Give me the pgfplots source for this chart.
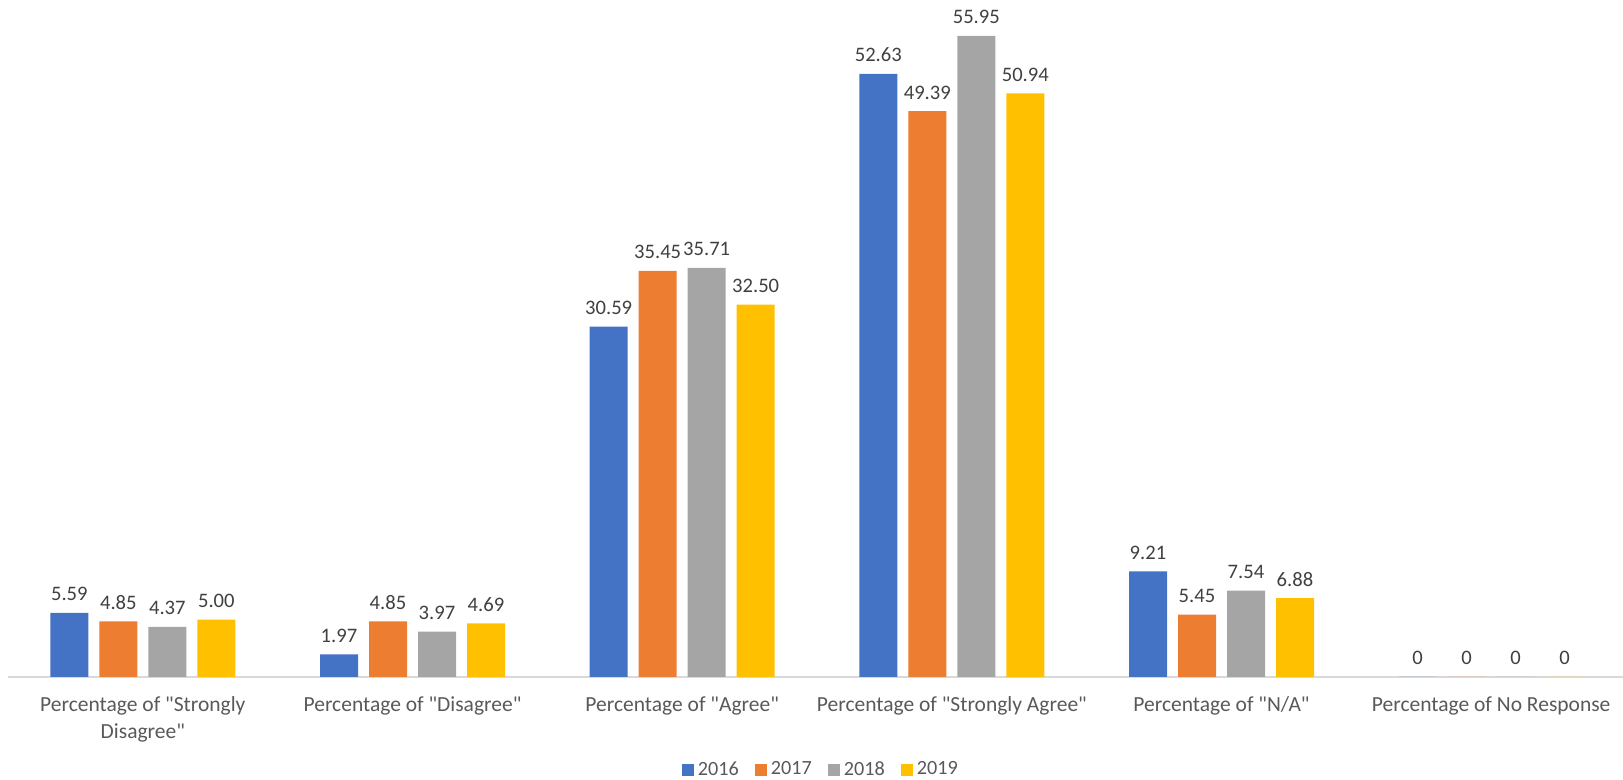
\documentclass[border=0pt]{standalone}
\usepackage{pgfplots}
\pgfplotsset{compat=1.18}
\usepackage{pgfplotstable}
\usepackage{fontspec}
\setmainfont{Carlito}[Ligatures=TeXOff]

\definecolor{c2016}{HTML}{4472C4}
\definecolor{c2017}{HTML}{ED7D31}
\definecolor{c2018}{HTML}{A5A5A5}
\definecolor{c2019}{HTML}{FFC000}
\definecolor{labelgray}{HTML}{595959}
\definecolor{datagray}{HTML}{404040}
\definecolor{axisgray}{HTML}{D9D9D9}

% x: 0 Strongly Disagree, 1 Disagree, 2 Agree, 3 Strongly Agree, 4 N/A, 5 No Response
\pgfplotstableread{
x y lab
0 5.59 5.59
1 1.97 1.97
2 30.59 30.59
3 52.63 52.63
4 9.21 9.21
5 0 0
}\tabA
\pgfplotstableread{
x y lab
0 4.85 4.85
1 4.85 4.85
2 35.45 35.45
3 49.39 49.39
4 5.45 5.45
5 0 0
}\tabB
\pgfplotstableread{
x y lab
0 4.37 4.37
1 3.97 3.97
2 35.71 35.71
3 55.95 55.95
4 7.54 7.54
5 0 0
}\tabC
\pgfplotstableread{
x y lab
0 5.00 5.00
1 4.69 4.69
2 32.50 32.50
3 50.94 50.94
4 6.88 6.88
5 0 0
}\tabD

\begin{document}
\begin{tikzpicture}
\begin{axis}[
  at={(4pt,51.5pt)}, anchor=south west,
  scale only axis, width=809pt, height=338.5pt,
  xmin=-0.5, xmax=5.5, ymin=0, ymax=59.09,
  enlargelimits=false, clip=false,
  ybar=5.5pt, bar width=19pt,
  hide y axis,
  axis x line*=bottom,
  x axis line style={draw=axisgray, line width=1pt},
  xtick={0,...,5},
  xticklabels={{Percentage of "Strongly\\Disagree"},
               {Percentage of "Disagree"},
               {Percentage of "Agree"},
               {Percentage of "Strongly Agree"},
               {Percentage of "N/A"},
               {Percentage of No Response}},
  major tick length=0pt,
  xticklabel style={font={\fontsize{10.75}{13.5}\selectfont}, text=labelgray,
    align=center, anchor=north, inner sep=0pt, yshift=-9.5pt},
  ytick=\empty,
  nodes near coords,
  point meta=explicit symbolic,
  every node near coord/.append style={font={\fontsize{10.3}{12}\selectfont},
    text=datagray, anchor=base, inner sep=0pt, yshift=6pt},
  legend columns=4,
  legend style={draw=none, fill=none, at={(0.503,-0.137)}, anchor=center,
    font={\fontsize{10.1}{12}\selectfont}, text=labelgray,
    /tikz/every even column/.append style={column sep=6pt},
    nodes={inner sep=2pt}},
  legend image code/.code={\fill[#1,draw=none] (0pt,-3pt) rectangle (6pt,3pt);},
]
\addplot[fill=c2016, draw=none] table[x=x, y=y, meta=lab] {\tabA};
\addplot[fill=c2017, draw=none] table[x=x, y=y, meta=lab] {\tabB};
\addplot[fill=c2018, draw=none] table[x=x, y=y, meta=lab] {\tabC};
\addplot[fill=c2019, draw=none] table[x=x, y=y, meta=lab] {\tabD};
\legend{2016,2017,2018,2019}
\end{axis}
\pgfresetboundingbox
\path[use as bounding box] (0,0) rectangle (811.5pt,390pt);
\end{tikzpicture}
\end{document}
